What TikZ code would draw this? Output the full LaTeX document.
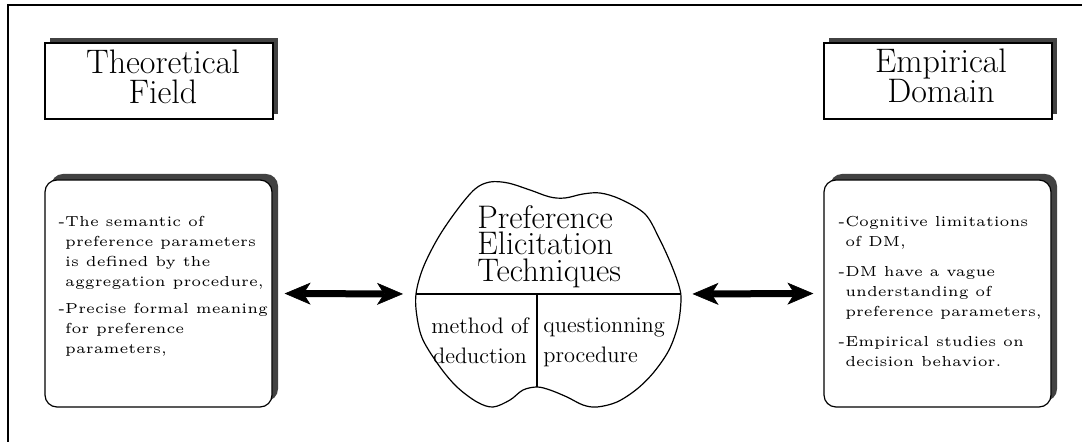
\documentclass[tikz,border=0pt]{standalone}
\usepackage{graphicx}
\usetikzlibrary{arrows.meta,shadows}
\definecolor{shadowgray}{RGB}{66,66,66}
\newcommand\myind{\hphantom{-}}
\newcommand\smallcm{\fontsize{5}{6.9}\selectfont}
\tikzset{
  frameline/.style={line width=0.6pt},
  titlebox/.style={draw, line width=0.6pt, fill=white, inner sep=0pt,
    minimum width=114pt, minimum height=38pt,
    drop shadow={shadow xshift=2.5pt, shadow yshift=2.5pt, fill=shadowgray, opacity=1}},
  infobox/.style={draw, line width=0.6pt, fill=white, inner sep=0pt, rounded corners=6pt,
    minimum width=113.5pt, minimum height=113.5pt,
    drop shadow={shadow xshift=3pt, shadow yshift=3pt, fill=shadowgray, opacity=1}},
  titletext/.style={inner sep=0pt, align=center, font=\fontsize{17}{15}\selectfont},
  blobtext/.style={inner sep=0pt, align=left, font=\fontsize{16.3}{13.3}\selectfont},
  midtext/.style={inner sep=0pt, font=\fontsize{11.2}{15}\selectfont},
  smalltext/.style={inner sep=0pt, anchor=north west},
  blobline/.style={line width=0.6pt},
  bigarrow/.style={line width=3.5pt,
    {Stealth[length=13pt,width=11pt,inset=3.5pt,line width=0.3pt]}-{Stealth[length=13pt,width=11pt,inset=3.5pt,line width=0.3pt]}}
}
\begin{document}
\begin{tikzpicture}[x=0.5pt,y=-0.5pt]
\useasboundingbox (0,0) rectangle (1082,442);
% frame
\draw[frameline] (1082,5) -- (8,5) -- (8,442);
% title boxes
\node[titlebox] (tfbox) at (159,81) {};
\node[titletext, anchor=north] (tft) at (163,50) {Theoretical\\Field};
\node[titlebox] (edbox) at (938,81) {};
\node[titletext, anchor=north] (edt) at (941,49) {Empirical\\Domain};
% info boxes
\node[infobox] (lbox) at (158.5,293.5) {};
\node[infobox] (rbox) at (937.5,293.5) {};
\node[smalltext] (ltext) at (58,212) {\scalebox{1.45}{\smallcm\begin{tabular}{@{}l@{}}
-The semantic of\\
\myind preference parameters\\
\myind is defined by the\\
\myind aggregation procedure,\\[2.4pt]
-Precise formal meaning\\
\myind for preference\\
\myind parameters,
\end{tabular}}};
\node[smalltext] (rtext) at (838,212) {\scalebox{1.45}{\smallcm\begin{tabular}{@{}l@{}}
-Cognitive limitations\\
\myind of DM,\\[3.4pt]
-DM have a vague\\
\myind understanding of\\
\myind preference parameters,\\[3.4pt]
-Empirical studies on\\
\myind decision behavior.
\end{tabular}}};
% blob
\draw[blobline] plot[smooth cycle, tension=0.55] coordinates {
 (416,294) (423,268) (438,238) (457,210) (475,189) (490,182) (508,183)
 (530,190) (550,197) (565,198) (583,194) (600,193) (620,199) (645,214)
 (659,238) (671,264) (679,286) (681,300) (678,325) (669,350) (654,372)
 (637,389) (617,402) (597,407) (583,405) (567,397) (550,390) (537,387)
 (523,390) (510,400) (493,407) (477,402) (457,387) (440,367) (423,340)
 (417,317)};
\coordinate (bl) at (416,294);
\coordinate (br) at (680.5,294);
\coordinate (bm) at (537,294);
\coordinate (bb) at (537,387);
\draw[blobline] (bl) -- (br);
\draw[blobline] (bm) -- (bb);
\node[blobtext, anchor=north west] (pet) at (477,205) {Preference\\Elicitation\\Techniques};
\node[midtext, anchor=north, align=center] (mod) at (480,317) {method of\\deduction};
\node[midtext, anchor=north west, align=left] (qp) at (543,317) {questionning\\procedure};
% arrows
\draw[bigarrow, shorten <=6pt, shorten >=6.5pt] (lbox.east) -- (bl);
\draw[bigarrow, shorten <=6pt, shorten >=5pt] (br) -- (rbox.west);
\end{tikzpicture}
\end{document}
